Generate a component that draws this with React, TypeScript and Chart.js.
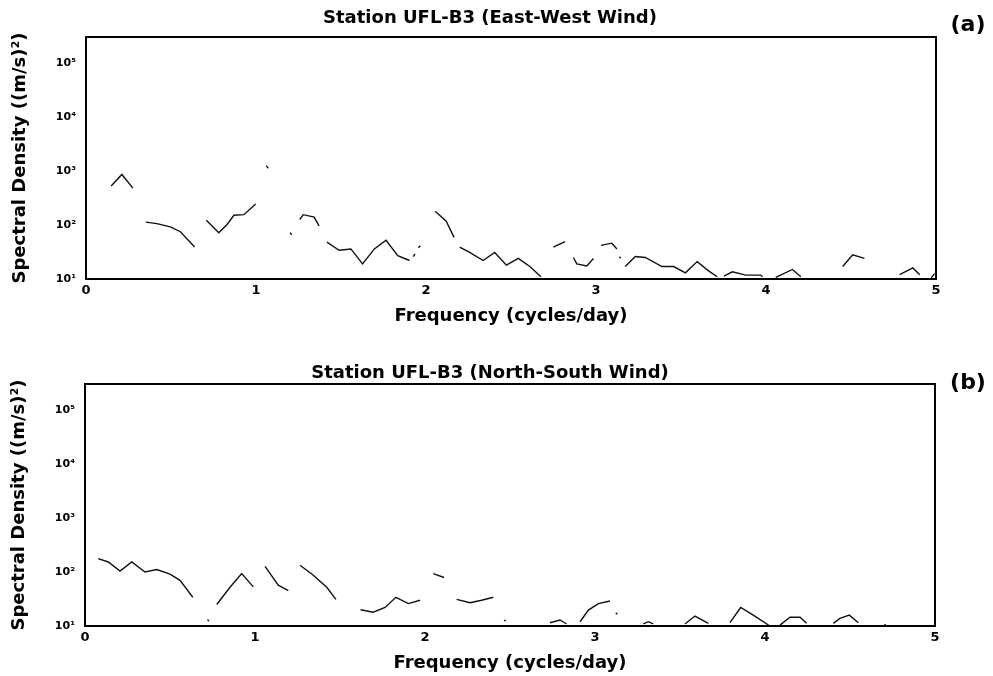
import React, { useEffect, useRef } from 'react';
import { Chart, registerables } from 'chart.js';

Chart.register(...registerables);

// Axis ticks shared by both panels
const freqTicks = [0, 1, 2, 3, 4, 5];
const densityTicks = [10, 100, 1000, 10000, 100000];
const densityTickLabels = ['10¹', '10²', '10³', '10⁴', '10⁵'];

// East-West wind spectrum (cycles/day, (m/s)^2); null marks a break in the trace
const ewFreq = [
  0.148, 0.211, 0.276, null,
  0.352, 0.417, 0.496, 0.555, 0.639, null,
  0.708, 0.781, 0.830, 0.870, 0.929, 0.998, null,
  1.060, 1.072, null,
  1.200, 1.210, null,
  1.257, 1.278, 1.342, 1.371, null,
  1.417, 1.489, 1.558, 1.627, 1.696, 1.765, 1.834, 1.903, null,
  1.925, 1.935, null,
  1.955, 1.966, null,
  2.054, 2.119, 2.165, null,
  2.198, 2.257, 2.336, 2.404, 2.473, 2.543, 2.611, 2.676, null,
  2.749, 2.818, null,
  2.867, 2.887, 2.946, 2.985, null,
  3.030, 3.093, 3.123, null,
  3.138, 3.146, null,
  3.172, 3.231, 3.290, 3.388, 3.457, 3.526, 3.595, 3.664, 3.713, null,
  3.753, 3.802, 3.881, 3.969, 3.979, null,
  4.057, 4.156, 4.205, null,
  4.451, 4.510, 4.579, null,
  4.786, 4.864, 4.904, null,
  4.972, 4.992,
];
const ewDensity = [
  525, 860, 480, null,
  113, 106, 92, 75, 39, null,
  122, 72, 102, 151, 155, 245, null,
  1250, 1120, null,
  72, 66, null,
  126, 155, 140, 96, null,
  48, 34, 36, 19, 36, 52, 27, 22, null,
  26, 29, null,
  38, 41, null,
  180, 117, 59, null,
  39, 31, 22, 31, 18, 24, 17, 11, null,
  39, 49, null,
  25, 19, 17.5, 24, null,
  42, 46, 36, null,
  26, 24, null,
  17, 26, 25, 17, 17, 13, 21, 14, 11, null,
  11.3, 13.6, 11.8, 11.8, 11, null,
  10.7, 15, 11, null,
  17, 28, 24, null,
  12, 16, 12, null,
  10.5, 12.6,
];

// North-South wind spectrum
const nsFreq = [
  0.078, 0.137, 0.206, 0.275, 0.353, 0.422, 0.500, 0.559, 0.634, null,
  0.720, 0.730, null,
  0.775, 0.853, 0.922, 0.990, null,
  1.059, 1.137, 1.196, null,
  1.265, 1.343, 1.422, 1.476, null,
  1.621, 1.696, 1.765, 1.829, 1.902, 1.971, null,
  2.049, 2.112, null,
  2.186, 2.265, 2.333, 2.402, null,
  2.465, 2.475, null,
  2.735, 2.794, 2.833, null,
  2.912, 2.961, 3.020, 3.088, null,
  3.122, 3.132, null,
  3.284, 3.314, 3.343, null,
  3.529, 3.588, 3.667, null,
  3.794, 3.857, 3.931, 4.029, null,
  4.088, 4.147, 4.206, 4.245, null,
  4.402, 4.441, 4.496, 4.549, null,
  4.700, 4.712,
];
const nsDensity = [
  177, 153, 104, 153, 100, 111, 91, 70, 34, null,
  13, 12.5, null,
  25, 52, 93, 53, null,
  127, 57, 45, null,
  133, 87, 52, 31, null,
  20, 18, 22, 34, 26, 30, null,
  93, 79, null,
  31, 27, 30, 34, null,
  12.8, 12.4, null,
  11.5, 12.9, 10.9, null,
  12, 19.7, 26, 29, null,
  17.5, 16.5, null,
  10.9, 12, 10.9, null,
  10.9, 15.3, 11.2, null,
  11.5, 22, 15.9, 10, null,
  10.4, 14.5, 14.5, 11.2, null,
  11.2, 13.8, 15.9, 11.5, null,
  10.4, 10.6,
];

const FAMILY = '"DejaVu Sans", "Liberation Sans", sans-serif';
const W = 993;
const H = 338;

type PanelProps = {
  title: string;
  tag: string;
  freq: (number | null)[];
  density: (number | null)[];
  areaTop: number;
  areaLeft: number;
  areaRight: number;
  bottomPad: number;
  titleY: number;
  tagY: number;
};

function SpectrumPanel(p: PanelProps) {
  const ref = useRef<HTMLCanvasElement | null>(null);

  useEffect(() => {
    const canvas = ref.current;
    if (!canvas) return;

    const points = p.freq.map((f, i) => ({
      x: f ?? (p.freq[i - 1] as number),
      y: p.density[i],
    }));

    // Box frame, panel heading and panel letter
    const decorations = {
      id: 'panelDecorations',
      afterDatasetsDraw(chart: any) {
        const { ctx, chartArea: a } = chart;
        ctx.save();
        ctx.strokeStyle = '#000';
        ctx.lineWidth = 2;
        ctx.strokeRect(a.left, a.top, a.right - a.left, a.bottom - a.top);
        ctx.fillStyle = '#000';
        ctx.textBaseline = 'middle';
        ctx.textAlign = 'center';
        ctx.font = `bold 18px ${FAMILY}`;
        ctx.fillText(p.title, 490, p.titleY);
        ctx.font = `bold 22px ${FAMILY}`;
        ctx.fillText(p.tag, 968, p.tagY);
        ctx.restore();
      },
    };

    const chart = new Chart(canvas, {
      type: 'line',
      data: {
        datasets: [
          {
            data: points as any,
            borderColor: '#111',
            borderWidth: 1.4,
            pointRadius: 0,
            spanGaps: false,
            tension: 0,
            fill: false,
          },
        ],
      },
      options: {
        animation: false,
        responsive: false,
        events: [],
        layout: {
          padding: { top: p.areaTop, left: p.areaLeft - 86, right: W - p.areaRight, bottom: p.bottomPad },
        },
        plugins: {
          legend: { display: false },
          tooltip: { enabled: false },
          title: { display: false },
        },
        scales: {
          x: {
            type: 'linear',
            min: 0,
            max: 5,
            grid: { display: false, drawTicks: false },
            border: { display: false },
            afterBuildTicks: (s: any) => {
              s.ticks = freqTicks.map((v) => ({ value: v }));
            },
            afterFit: (s: any) => {
              s.height = 48;
            },
            ticks: {
              padding: 4,
              color: '#000',
              font: { family: FAMILY, size: 13, weight: 'bold' },
              callback: (v: any) => String(v),
            },
            title: {
              display: true,
              text: 'Frequency (cycles/day)',
              color: '#000',
              font: { family: FAMILY, size: 18, weight: 'bold' },
              padding: { top: 0, bottom: 0 },
            },
          },
          y: {
            type: 'logarithmic',
            min: 10,
            max: 300000,
            grid: { display: false, drawTicks: false },
            border: { display: false },
            afterBuildTicks: (s: any) => {
              s.ticks = densityTicks.map((v) => ({ value: v }));
            },
            afterFit: (s: any) => {
              s.width = 86;
            },
            ticks: {
              padding: 10,
              color: '#000',
              font: { family: FAMILY, size: 11, weight: 'bold' },
              callback: (v: any) => {
                const i = densityTicks.indexOf(Number(v));
                return i >= 0 ? densityTickLabels[i] : '';
              },
            },
            title: {
              display: true,
              text: 'Spectral Density ((m/s)²)',
              color: '#000',
              font: { family: FAMILY, size: 18, weight: 'bold' },
              padding: { top: 10, bottom: 0 },
            },
          },
        },
      } as any,
      plugins: [decorations],
    });

    return () => chart.destroy();
  }, [p]);

  return <canvas ref={ref} width={W} height={H} style={{ display: 'block' }} />;
}

export default function App() {
  return (
    <div style={{ position: 'absolute', left: 0, top: 0, width: W, height: 2 * H, background: '#fff' }}>
      <SpectrumPanel
        title="Station UFL-B3 (East-West Wind)"
        tag="(a)"
        freq={ewFreq}
        density={ewDensity}
        areaTop={37}
        areaLeft={86}
        areaRight={936}
        bottomPad={11}
        titleY={18.5}
        tagY={25}
      />
      <SpectrumPanel
        title="Station UFL-B3 (North-South Wind)"
        tag="(b)"
        freq={nsFreq}
        density={nsDensity}
        areaTop={46}
        areaLeft={85}
        areaRight={935}
        bottomPad={2}
        titleY={35}
        tagY={45}
      />
    </div>
  );
}
